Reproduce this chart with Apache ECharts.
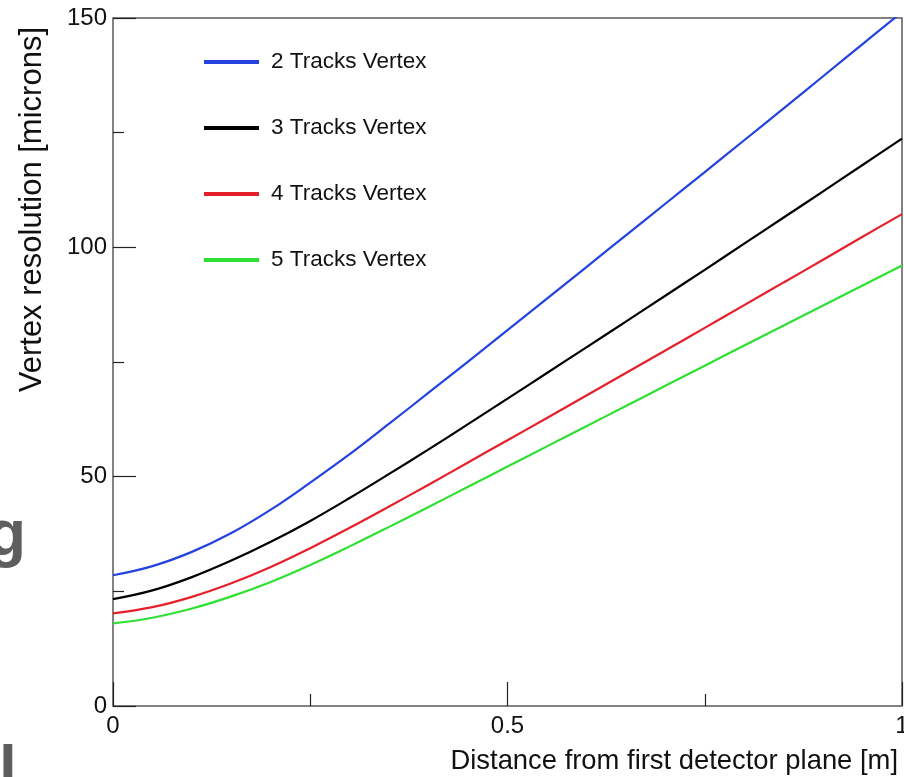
<!DOCTYPE html>
<html>
<head>
<meta charset="utf-8">
<style>
  html, body { margin: 0; padding: 0; background: #fff; }
  #chart { width: 904px; height: 777px; }
</style>
<script src="https://cdn.jsdelivr.net/npm/echarts@6/dist/echarts.min.js"></script>
</head>
<body>
<div id="chart"></div>
<script>
// Distance from the first detector plane [m]
const distance = [0, 0.05, 0.1, 0.15, 0.2, 0.25, 0.3, 0.35, 0.4, 0.45, 0.5,
                  0.55, 0.6, 0.65, 0.7, 0.75, 0.8, 0.85, 0.9, 0.95, 1.0];

// Vertex resolution [microns] for each track multiplicity
const res2Tracks = [28.5, 30.5, 33.6, 37.7, 42.8, 48.7, 54.9, 61.55, 68.3, 75.1, 81.95,
                    88.8, 95.7, 102.6, 109.5, 116.4, 123.35, 130.3, 137.3, 144.3, 151.3];
const res3Tracks = [23.3, 25.2, 28.1, 31.7, 35.8, 40.35, 45.35, 50.6, 55.95, 61.45, 67.0,
                    72.6, 78.2, 83.8, 89.45, 95.1, 100.8, 106.5, 112.2, 117.95, 123.7];
const res4Tracks = [20.2, 21.55, 23.8, 26.75, 30.3, 34.4, 38.85, 43.5, 48.25, 53.1, 57.95,
                    62.8, 67.7, 72.6, 77.5, 82.45, 87.4, 92.35, 97.3, 102.3, 107.25];
const res5Tracks = [18.0, 19.25, 21.25, 23.9, 27.05, 30.75, 34.8, 39.05, 43.4, 47.8, 52.2,
                    56.6, 61.0, 65.4, 69.8, 74.2, 78.6, 82.95, 87.3, 91.7, 96.05];

const seriesNames = ['2 Tracks Vertex', '3 Tracks Vertex', '4 Tracks Vertex', '5 Tracks Vertex'];
const xTickLabels = { 0: '0', 0.5: '0.5', 1: '1' };

const FONT = '"Liberation Sans", Arial, Helvetica, sans-serif';
const colors = ['#2342e0', '#000000', '#e6202a', '#2fe032'];
const curves = [res2Tracks, res3Tracks, res4Tracks, res5Tracks];

const chart = echarts.init(document.getElementById('chart'), null, { renderer: 'canvas' });

const series = curves.map((vals, i) => ({
  name: seriesNames[i],
  type: 'line',
  data: distance.map((d, k) => [d, vals[k]]),
  smooth: 0.4,
  showSymbol: false,
  symbol: 'none',
  clip: true,
  lineStyle: { color: colors[i], width: 2.2 },
  itemStyle: { color: colors[i] },
  z: 10 - i
}));

chart.setOption({
  animation: false,
  backgroundColor: '#ffffff',
  grid: {
    left: 113, top: 18, right: 2, bottom: 71,
    outerBoundsMode: 'none',
    containLabel: false,
    show: true, borderColor: '#5a5a5a', borderWidth: 1.5,
    backgroundColor: 'transparent'
  },
  legend: {
    data: seriesNames,
    orient: 'vertical',
    left: 204, top: 49,
    padding: 0,
    icon: 'rect',
    itemWidth: 55, itemHeight: 4,
    itemGap: 40,
    textStyle: {
      fontFamily: FONT, fontSize: 22.5, color: '#111', lineHeight: 26,
      padding: [0, 0, 0, 7]
    },
    selectedMode: false
  },
  xAxis: {
    type: 'value', min: 0, max: 1, interval: 0.5,
    axisLine: { show: false },
    splitLine: { show: false },
    axisTick: { show: true, inside: true, length: 24, lineStyle: { color: '#222', width: 1.2 } },
    minorTick: { show: true, splitNumber: 2, length: 12, lineStyle: { color: '#222', width: 1.2 } },
    axisLabel: {
      fontFamily: FONT, fontSize: 24, color: '#111', margin: 8,
      formatter: v => xTickLabels[v] !== undefined ? xTickLabels[v] : ''
    }
  },
  yAxis: {
    type: 'value', min: 0, max: 150, interval: 50,
    axisLine: { show: false },
    splitLine: { show: false },
    axisTick: { show: true, inside: true, length: 23, lineStyle: { color: '#222', width: 1.2 } },
    minorTick: { show: true, splitNumber: 2, length: 11, lineStyle: { color: '#222', width: 1.2 } },
    axisLabel: { fontFamily: FONT, fontSize: 24, color: '#111', margin: 6 }
  },
  graphic: [
    {
      type: 'text', x: 898, y: 761,
      style: {
        text: 'Distance from first detector plane [m]',
        font: '27.4px ' + FONT, fill: '#111',
        textAlign: 'right', textVerticalAlign: 'middle'
      }
    },
    {
      type: 'text', x: 32, y: 27, rotation: Math.PI / 2,
      style: {
        text: 'Vertex resolution [microns]',
        font: '31px ' + FONT, fill: '#111',
        textAlign: 'right', textVerticalAlign: 'middle'
      }
    },
    // fragments of neighbouring slide text cut by the left edge
    {
      type: 'text', x: -13, y: 505,
      style: { text: 'g', font: 'bold 64px ' + FONT, fill: '#5e5e5e' }
    },
    {
      type: 'text', x: -1, y: 741,
      style: { text: 'l', font: 'bold 64px ' + FONT, fill: '#5e5e5e' }
    }
  ],
  series: series
});
</script>
</body>
</html>
